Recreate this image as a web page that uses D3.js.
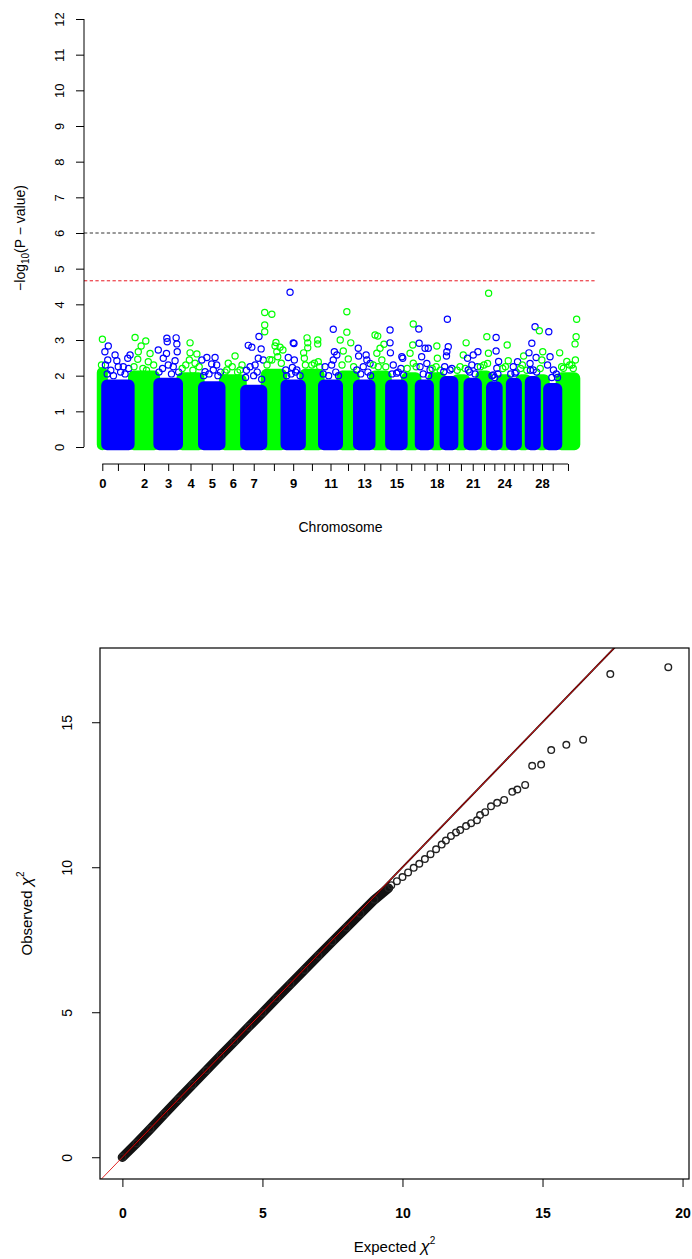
<!DOCTYPE html>
<html><head><meta charset="utf-8">
<script src="https://cdn.jsdelivr.net/npm/d3@7"></script>
<style>body{margin:0;background:#fff}text{font-family:"Liberation Sans",Arial,sans-serif;fill:#000}</style>
</head><body>
<svg id="c" width="692" height="1259"></svg>
<script>
// ---------------- DATA ----------------
const chrNames = ["0","1","2","3","4","5","6","7","8","9","10","11","12","13","14","15","16","17","18","19","20","21","22","23","24","25","26","27","28","29","30"];
const chrLengthMb = [25,150,142,129,121,117,119,115,111,105,105,103,93,89,91,89,77,70,69,68,66,66,60,56,55,53,53,53,50,70,101];
// upper edge of the dense (solid-looking) body of each chromosome's cloud, -log10(P)
const chrCloudTop = [2.15,1.8,2.05,1.85,2.0,1.75,1.95,1.65,2.1,1.8,2.1,1.8,2.05,1.8,2.05,1.8,2.0,1.8,2.0,1.9,1.95,1.85,2.05,1.75,1.95,1.85,1.95,1.9,1.95,1.7,2.0];
const shownChrLabels = ["0","2","3","4","5","6","7","9","11","13","15","18","21","24","28"];
const chrColors = ["#00ff00","#0000ff"];
const manYTicks = [0,1,2,3,4,5,6,7,8,9,10,11,12];
const genomeWideLine = 6;
const suggestiveLine = 4.66;
// individually visible SNPs above the dense clouds: [chromosome, cumulative Mb, -log10(P)]
const snpHits = [
[0,13,3.02],[0,8,2.3],
[1,46,2.83],[1,27,2.67],[1,43,2.44],[1,84,2.58],[1,94,2.42],[1,168,2.58],[1,155,2.49],[1,130,2.25],[1,102,2.25],
[1,40,2.05],[1,60,2.15],[1,75,2.0],[1,115,2.1],[1,140,2.05],[1,160,2.2],[1,30,2.3],
[2,196,3.07],[2,256,2.97],[2,214,2.67],[2,230,2.83],[2,280,2.62],[2,211,2.46],[2,270,2.39],
[2,190,2.25],[2,240,2.2],[2,300,2.3],[2,260,2.15],
[3,326,2.72],[3,374,3.05],[3,376,2.95],[3,426,3.06],[3,430,2.89],[3,372,2.62],[3,432,2.67],[3,354,2.49],[3,420,2.42],[3,382,2.30],
[3,330,2.1],[3,350,2.2],[3,400,2.05],[3,410,2.25],[3,440,2.1],
[4,504,2.92],[4,504,2.64],[4,542,2.61],[4,500,2.44],[4,532,2.35],
[4,460,2.2],[4,480,2.3],[4,520,2.15],[4,555,2.25],
[5,570,2.44],[5,598,2.51],[5,644,2.51],[5,625,2.33],[5,588,2.11],[5,634,2.16],[5,653,2.30],
[5,580,2.0],[5,610,2.05],[5,660,2.0],[5,675,2.1],
[6,756,2.55],[6,718,2.35],[6,784,2.16],[6,710,2.16],
[6,700,2.1],[6,740,2.25],[6,770,2.1],[6,795,2.3],
[7,830,2.85],[7,850,2.80],[7,890,3.10],[7,902,2.75],[7,886,2.49],[7,914,2.44],[7,868,2.30],[7,840,2.25],
[7,815,1.95],[7,860,2.0],[7,880,2.1],[7,905,1.9],[7,820,2.15],
[8,922,3.77],[8,962,3.72],[8,922,3.42],[8,922,3.23],[8,980,2.83],[8,1008,2.80],[8,1024,2.72],[8,990,2.67],[8,995,2.53],[8,962,2.44],[8,985,2.93],
[8,935,2.3],[8,950,2.45],[8,1015,2.35],
[9,1064,4.34],[9,1082,2.92],[9,1086,2.90],[9,1054,2.51],[9,1088,2.44],[9,1040,2.16],[9,1077,2.23],[9,1102,2.16],
[9,1045,2.0],[9,1070,2.05],[9,1095,2.1],[9,1120,2.0],
[10,1159,3.06],[10,1163,2.92],[10,1163,2.78],[10,1219,3.00],[10,1219,2.89],[10,1140,2.64],[10,1144,2.49],[10,1222,2.39],[10,1186,2.30],
[10,1150,2.3],[10,1200,2.35],[10,1230,2.25],
[11,1306,3.30],[11,1312,2.67],[11,1326,2.58],[11,1306,2.44],[11,1260,2.25],[11,1297,2.30],
[11,1250,2.05],[11,1280,2.0],[11,1320,2.1],[11,1335,2.0],
[12,1345,3.00],[12,1382,3.79],[12,1382,3.22],[12,1404,2.92],[12,1362,2.69],[12,1390,2.47],
[12,1355,2.3],[12,1420,2.25],
[13,1446,2.77],[13,1448,2.55],[13,1490,2.58],[13,1494,2.44],[13,1438,2.16],[13,1474,2.25],[13,1512,2.34],
[13,1460,2.05],[13,1500,2.1],[13,1515,2.0],
[14,1540,3.14],[14,1555,3.11],[14,1590,2.88],[14,1568,2.77],[14,1550,2.63],[14,1578,2.44],[14,1558,2.25],
[14,1530,2.3],[14,1600,2.25],
[15,1624,3.28],[15,1624,2.92],[15,1626,2.64],[15,1690,2.53],[15,1695,2.49],[15,1642,2.30],[15,1661,2.07],[15,1700,2.02],
[15,1635,2.05],[15,1670,2.1],[15,1685,2.2],
[16,1754,3.45],[16,1751,2.86],[16,1736,2.63],[16,1754,2.35],
[16,1720,2.2],[16,1770,2.25],
[17,1785,3.31],[17,1787,2.91],[17,1820,2.77],[17,1838,2.77],[17,1801,2.53],[17,1830,2.34],[17,1792,2.25],[17,1848,2.16],
[17,1810,2.05],[17,1840,2.0],
[18,1886,2.83],[18,1889,2.49],[18,1882,2.25],
[18,1860,2.2],[18,1905,2.15],
[19,1945,3.58],[19,1950,2.81],[19,1942,2.67],[19,1940,2.55],[19,1960,2.16],[19,1925,2.11],
[19,1970,2.2],[19,1930,2.25],
[20,2050,2.92],[20,2034,2.58],[20,2016,2.25],
[20,2000,2.15],[20,2045,2.2],
[21,2058,2.49],[21,2090,2.58],[21,2116,2.67],[21,2082,2.30],[21,2114,2.25],[21,2062,2.16],
[21,2070,2.1],[21,2100,2.05],
[22,2166,3.09],[22,2175,2.63],[22,2176,4.31],[22,2170,2.34],
[22,2130,2.25],[22,2150,2.3],
[23,2218,3.07],[23,2218,2.69],[23,2222,2.21],[23,2232,2.40],[23,2202,2.02],
[23,2195,2.0],[23,2210,1.95],[23,2228,2.05],
[24,2280,2.86],[24,2286,2.42],[24,2270,2.25],
[24,2255,2.2],
[25,2324,2.07],[25,2338,2.39],[25,2314,2.25],
[25,2300,2.05],[25,2330,2.1],
[26,2372,2.55],[26,2365,2.30],
[26,2355,2.2],[26,2390,2.15],
[27,2436,3.37],[27,2418,2.91],[27,2402,2.64],[27,2442,2.51],[27,2408,2.34],[27,2426,2.16],
[27,2410,2.15],[27,2445,2.1],
[28,2460,3.26],[28,2479,2.67],[28,2474,2.44],
[28,2465,2.2],
[29,2513,3.23],[29,2520,2.53],[29,2506,2.30],[29,2539,2.16],
[29,2530,1.95],[29,2555,2.05],[29,2562,1.95],
[30,2574,2.64],[30,2669,3.58],[30,2666,3.09],[30,2660,2.89],[30,2614,2.40],[30,2642,2.30],[30,2595,2.21],[30,2662,2.44],
[30,2585,2.25],[30,2630,2.3],[30,2650,2.2]
];
const manXLimMb = [-90, 2783];
const manYLim = [0, 12];

// QQ plot: dense body of the quantiles and the individually visible tail
const qqBandExp = [0,0.5,1,1.5,2,2.5,3,3.5,4,4.5,5,5.5,6,6.5,7,7.5,8,8.5,9,9.5];
const qqBandObs = [0,0.48,0.98,1.49,2.0,2.5,3.0,3.5,3.99,4.49,4.98,5.48,5.97,6.46,6.95,7.44,7.92,8.4,8.88,9.28];
const qqTailExp = [9.6,9.8,10.0,10.2,10.4,10.6,10.8,11.0,11.2,11.4,11.55,11.73,11.91,12.06,12.27,12.45,12.66,12.77,12.95,13.16,13.38,13.63,13.92,14.1,14.38,14.63,14.95,15.31,15.85,16.45,17.42,19.49];
const qqTailObs = [9.38,9.52,9.66,9.82,9.98,10.12,10.28,10.45,10.62,10.78,10.92,11.08,11.2,11.28,11.42,11.52,11.62,11.8,11.9,12.1,12.22,12.32,12.6,12.68,12.84,13.5,13.54,14.04,14.22,14.4,16.66,16.9];
const qqXTicks = [0,5,10,15,20];
const qqYTicks = [0,5,10,15];
const qqXLim = [-0.8, 20.23];
const qqYLim = [-0.75, 17.56];

// ---------------- DRAW ----------------
const svg = d3.select("#c");
const FONT = "Liberation Sans, Arial, sans-serif";

// ---- Manhattan ----
const M = {l:84, r:597, t:2, b:464};
const mx = d3.scaleLinear().domain(manXLimMb).range([M.l, M.r]);
const my = d3.scaleLinear().domain(manYLim).range([447, 19]);
const ends = d3.cumsum(chrLengthMb);
const chrs = chrNames.map((n,i)=>({name:n, i, start: ends[i]-chrLengthMb[i], end: ends[i], top: chrCloudTop[i], color: chrColors[i%2]}));

const gM = svg.append("g");
const cloudOrder = chrs.filter(c=>c.i%2===0).concat(chrs.filter(c=>c.i%2===1));
gM.selectAll("rect.cloud").data(cloudOrder).join("rect")
  .attr("x", d=>mx(d.start)).attr("width", d=>mx(d.end)-mx(d.start))
  .attr("y", d=>my(d.top)).attr("height", d=>my(0)-my(d.top))
  .attr("rx", 2.5).attr("ry", 2.5)
  .attr("fill", d=>d.color).attr("stroke", d=>d.color)
  .attr("stroke-width", 6.6).attr("stroke-linejoin","round");

gM.selectAll("circle.hit").data(snpHits).join("circle")
  .attr("cx", d=>mx(d[1])).attr("cy", d=>my(d[2])).attr("r", 3.1)
  .attr("fill","none").attr("stroke", d=>chrColors[d[0]%2]).attr("stroke-width",1.2);

gM.append("line").attr("x1",M.l).attr("x2",M.r).attr("y1",my(genomeWideLine)).attr("y2",my(genomeWideLine))
  .attr("stroke","#333").attr("stroke-width",1).attr("stroke-dasharray","3.3,2.4");
gM.append("line").attr("x1",M.l).attr("x2",M.r).attr("y1",my(suggestiveLine)).attr("y2",my(suggestiveLine))
  .attr("stroke","#e8141e").attr("stroke-width",1).attr("stroke-dasharray","3.3,2.4");

const yAx = d3.axisLeft(my).tickValues(manYTicks).tickSize(8).tickFormat(d3.format("d"));
const gYA = gM.append("g").attr("transform",`translate(${M.l},0)`).call(yAx);
gYA.select(".domain").attr("d",`M0,${my(0)}V${my(12)}`).attr("stroke","#000");
gYA.selectAll(".tick line").attr("stroke","#000");
gYA.selectAll(".tick text").attr("transform","rotate(-90)").attr("x",0).attr("y",-20)
  .attr("dy",0).attr("text-anchor","middle").style("font-size","13px").style("font-family",FONT);

const mids = chrs.map(c=>(c.start+c.end)/2);
const xAx = d3.axisBottom(mx).tickValues(mids).tickSize(7)
  .tickFormat((d,i)=> shownChrLabels.includes(chrNames[i]) ? chrNames[i] : "");
const gXA = gM.append("g").attr("transform",`translate(0,${M.b})`).call(xAx);
gXA.select(".domain").attr("d",`M${mx(mids[0])},0H${mx(mids[mids.length-1])}`).attr("stroke","#000");
gXA.selectAll(".tick line").attr("stroke","#000");
gXA.selectAll(".tick text").attr("y",24).attr("dy",0).style("font-size","13px").style("font-weight","bold")
  .style("font-family",FONT);

gM.append("text").attr("x",(M.l+M.r)/2).attr("y",532).attr("text-anchor","middle").style("font-size","14px").text("Chromosome");
const yl = gM.append("text").attr("transform","translate(25,238) rotate(-90)").attr("text-anchor","middle").style("font-size","14px");
yl.append("tspan").text("\u2212log");
yl.append("tspan").attr("font-size","10px").attr("dy",4).text("10");
yl.append("tspan").attr("dy",-4).text("(P \u2212 value)");

// ---- QQ plot ----
const Q = {l:100, r:689, t:648, b:1179};
const qx = d3.scaleLinear().domain(qqXLim).range([Q.l, Q.r]);
const qy = d3.scaleLinear().domain(qqYLim).range([Q.b, Q.t]);
const gQ = svg.append("g");
gQ.append("clipPath").attr("id","qclip").append("rect").attr("x",Q.l).attr("y",Q.t).attr("width",Q.r-Q.l).attr("height",Q.b-Q.t);

const band = qqBandExp.map((e,i)=>[e,qqBandObs[i]]);
const qline = d3.line().x(d=>qx(d[0])).y(d=>qy(d[1]));
gQ.append("path").datum(band).attr("d",qline).attr("fill","none").attr("stroke","#111")
  .attr("stroke-width",9.5).attr("stroke-linecap","round").attr("stroke-linejoin","round");
const tail = qqTailExp.map((e,i)=>[e,qqTailObs[i]]);
gQ.selectAll("circle.qq").data(band.concat(tail)).join("circle")
  .attr("cx",d=>qx(d[0])).attr("cy",d=>qy(d[1])).attr("r",3.3)
  .attr("fill","none").attr("stroke","#222").attr("stroke-width",1.4);

const lims = [qqXLim[0], qqXLim[1]];
gQ.append("path").datum([[0,0],[lims[1],lims[1]]]).attr("d",qline).attr("clip-path","url(#qclip)")
  .attr("stroke","#2a0000").attr("stroke-width",1.8).attr("fill","none");
gQ.append("path").datum([[lims[0],lims[0]],[lims[1],lims[1]]]).attr("d",qline).attr("clip-path","url(#qclip)")
  .attr("stroke","#e01010").attr("stroke-width",0.9).attr("fill","none");

gQ.append("rect").attr("x",Q.l).attr("y",Q.t).attr("width",Q.r-Q.l).attr("height",Q.b-Q.t)
  .attr("fill","none").attr("stroke","#000").attr("stroke-width",1.2);

const qxA = gQ.append("g").attr("transform",`translate(0,${Q.b})`).call(d3.axisBottom(qx).tickValues(qqXTicks).tickSize(8));
qxA.select(".domain").remove();
qxA.selectAll(".tick line").attr("stroke","#000");
qxA.selectAll(".tick text").attr("y",39).attr("dy",0).style("font-size","14px").style("font-weight","bold")
  .style("font-family",FONT);
const qyA = gQ.append("g").attr("transform",`translate(${Q.l},0)`).call(d3.axisLeft(qy).tickValues(qqYTicks).tickSize(8));
qyA.select(".domain").remove();
qyA.selectAll(".tick line").attr("stroke","#000");
qyA.selectAll(".tick text").attr("transform","rotate(-90)").attr("x",0).attr("y",-28).attr("dy",0)
  .attr("text-anchor","middle").style("font-size","14px").style("font-family",FONT);

const xl = gQ.append("text").attr("x",(Q.l+Q.r)/2).attr("y",1252).attr("text-anchor","middle").style("font-size","15px");
xl.append("tspan").text("Expected ");
xl.append("tspan").attr("font-style","italic").attr("font-size","17px").text("\u03C7");
xl.append("tspan").attr("font-size","10px").attr("dy",-8).text("2");
const ol = gQ.append("text").attr("transform",`translate(32,${(Q.t+Q.b)/2}) rotate(-90)`).attr("text-anchor","middle").style("font-size","15px");
ol.append("tspan").text("Observed ");
ol.append("tspan").attr("font-style","italic").attr("font-size","17px").text("\u03C7");
ol.append("tspan").attr("font-size","10px").attr("dy",-8).text("2");
</script>
</body></html>
